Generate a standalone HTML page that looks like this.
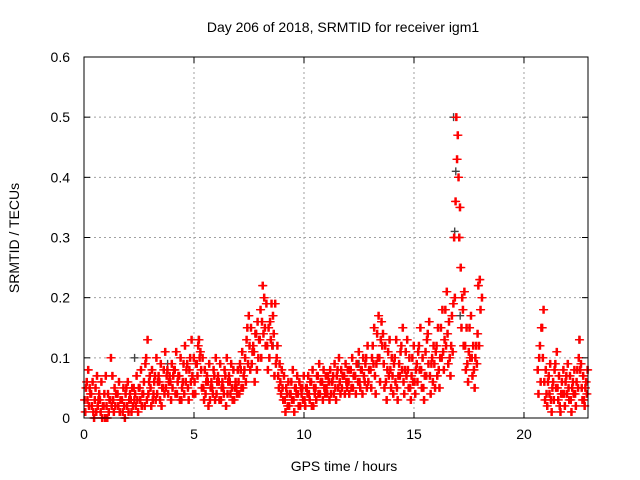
<!DOCTYPE html>
<html><head><meta charset="utf-8"><style>
html,body{margin:0;padding:0;background:#fff;}
svg{display:block;font-family:"Liberation Sans",sans-serif;}
</style></head><body>
<svg id="chart" width="640" height="480" viewBox="0 0 640 480" xmlns="http://www.w3.org/2000/svg">
<rect width="640" height="480" fill="#fff"/>
<text x="343" y="32" font-size="14" text-anchor="middle">Day 206 of 2018, SRMTID for receiver igm1</text>
<text transform="translate(19,238) rotate(-90)" font-size="14" text-anchor="middle">SRMTID / TECUs</text>
<text x="344" y="471" font-size="14" text-anchor="middle">GPS time / hours</text>
<g id="grid"></g><g id="marks"></g><g id="axes"></g>
</svg>
<script>
const xTicks=[0,5,10,15,20];
const yTicks=[0,0.1,0.2,0.3,0.4,0.5,0.6];
const yTickLabels=["0","0.1","0.2","0.3","0.4","0.5","0.6"];
const N=null;
const seriesA=[3,6,2,4,1,5,2,3,0,4, 2,1,10,3,2,4,1,3,2,5, 1,3,2,4,3,5,2,6,10,4, 5,3,7,4,6,2,8,5,4,6, 5,8,4,7,3,9,6,5,10,7, 6,9,13,8,5,4,6,3,5,7, 4,6,3,5,7,4,6,5,3,5, 6,8,5,10,15,12,9,11,14,10, 18,22,15,12,10,19,14,9,7,6, 5,3,4,2,6,3,5,4,2,5, 3,5,4,6,2,5,7,4,6,5, 5,6,4,7,5,8,6,5,7,6, 6,8,5,7,9,6,8,7,10,6, 8,12,7,14,10,16,9,6,11,8, 7,10,5,9,12,6,11,8,5,10, 6,9,12,8,5,11,14,7,10,9, 12,8,15,11,18,14,10,17,30,50, 40,25,18,12,9,15,10,8,12,22, 18,N,N,N,N,N,N,N,N,N, N,N,N,N,N,N,N,N,N,N, N,N,N,N,N,N,8,12,15,6, 4,7,3,6,9,5,2,6,4,7, 5,3,6,4,8,13,5,3,6];
const seriesB=[1,3,5,2,0,1,3,1,2,0, 0,3,2,1,4,2,3,1,0,2, 3,1,5,2,1,3,4,2,3,6, 2,4,3,6,3,5,4,7,6,3, 7,4,6,3,5,4,8,3,6,4, 4,7,10,5,3,6,2,5,4,3, 6,3,5,4,2,6,4,3,5,4, 4,5,7,6,9,8,11,6,8,13, 10,14,12,8,16,12,7,10,5,4, 3,1,2,4,3,1,4,2,5,3, 2,4,3,2,5,3,4,6,3,4, 4,3,6,4,3,5,4,7,4,5, 4,5,7,4,6,5,4,6,5,8, 5,9,4,10,6,12,5,3,7,5, 4,6,3,7,8,4,7,5,3,6, 4,6,8,5,3,7,9,4,6,5, 7,5,10,8,12,9,7,11,20,43, 30,15,12,8,6,10,7,5,9,12, N,N,N,N,N,N,N,N,N,N, N,N,N,N,N,N,N,N,N,N, N,N,N,N,N,N,4,6,10,3, 2,4,1,3,5,3,1,4,2,4, 3,1,4,2,5,8,3,2,4];
const seriesC=[5,8,4,6,3,7,4,6,2,7, 4,3,7,5,4,6,3,5,4,6, 4,5,3,7,5,8,4,9,13,7, 8,6,10,7,9,5,11,8,7,9, 8,11,7,10,6,12,9,8,13,10, 9,12,11,10,8,7,9,6,8,10, 7,9,6,8,10,7,9,8,6,8, 9,11,8,13,17,15,12,14,16,13, 16,20,19,15,13,17,19,12,9,8, 7,5,6,4,8,5,7,6,4,7, 5,7,6,8,4,7,9,6,8,7, 7,8,6,9,7,10,8,7,9,8, 8,10,7,9,11,8,10,9,12,8, 10,15,9,17,13,14,12,8,13,10, 9,13,7,11,15,8,13,10,7,12, 8,11,15,10,7,13,16,9,12,11, 15,10,18,13,21,16,12,19,36,47, 35,20,21,15,11,17,12,10,14,23, 20,N,N,N,N,N,N,N,N,N, N,N,N,N,N,N,N,N,N,N, N,N,N,N,N,N,10,15,18,8, 6,9,5,8,11,7,4,8,6,9, 7,5,8,6,10,9,7,5,8];
const grayTimes=[16.8,16.9,16.85,5.2,22.5,2.3,8.6,17.1,3.8,12.5];
const grayValues=[0.50,0.41,0.31,0.13,0.13,0.10,0.12,0.17,0.09,0.09];
const timeStep=0.1;

const L=84,R=588,T=57,B=418,XMAX=22.91,YMAX=0.6;
const xs=v=>L+v/XMAX*(R-L);
const ys=v=>B-v/YMAX*(B-T);
const NS="http://www.w3.org/2000/svg";
function mk(tag,parent,attrs){const e=document.createElementNS(NS,tag);for(const k in attrs)e.setAttribute(k,attrs[k]);parent.appendChild(e);return e;}
const grid=document.getElementById('grid'),marks=document.getElementById('marks'),axes=document.getElementById('axes');
xTicks.forEach(t=>{
  if(t>0){const g=mk('line',grid,{x1:xs(t),x2:xs(t),y1:T,y2:B,stroke:'#a0a0a0','stroke-dasharray':'2,3'});
  
  }
  mk('line',axes,{x1:xs(t),x2:xs(t),y1:B,y2:B-6,stroke:'#000'});
  mk('line',axes,{x1:xs(t),x2:xs(t),y1:T,y2:T+6,stroke:'#000'});
  const lb=mk('text',axes,{x:xs(t),y:B+21,'font-size':14,'text-anchor':'middle'});lb.textContent=t;
  
  
});
yTicks.forEach((t,i)=>{
  if(t>0&&t<YMAX){const g=mk('line',grid,{x1:L,x2:R,y1:ys(t),y2:ys(t),stroke:'#a0a0a0','stroke-dasharray':'2,3'});
  
  }
  mk('line',axes,{x1:L,x2:L+6,y1:ys(t),y2:ys(t),stroke:'#000'});
  mk('line',axes,{x1:R,x2:R-6,y1:ys(t),y2:ys(t),stroke:'#000'});
  const lb=mk('text',axes,{x:L-14,y:ys(t)+5,'font-size':14,'text-anchor':'end'});lb.textContent=yTickLabels[i];
  
  
});
const frame=mk('rect',axes,{x:L,y:T,width:R-L,height:B-T,fill:'none',stroke:'#000'});


function plus(x,y,c){return mk('path',marks,{d:`M${x-4},${y}h8M${x},${y-4}v8`,stroke:c,'stroke-width':1.4});}
grayTimes.forEach((t,i)=>{const p=plus(xs(t),ys(grayValues[i]),'#444');
  
  });
[[seriesA,0],[seriesB,0.033],[seriesC,0.066]].forEach(([s,off])=>{
  [0,0.05].forEach(off2=>{
    s.forEach((v,i)=>{if(v===null)return;
      const p=plus(xs(i*timeStep+off+off2),ys(v/100),'#ff0000');
      
      
    });
  });
});
</script>
</body></html>
